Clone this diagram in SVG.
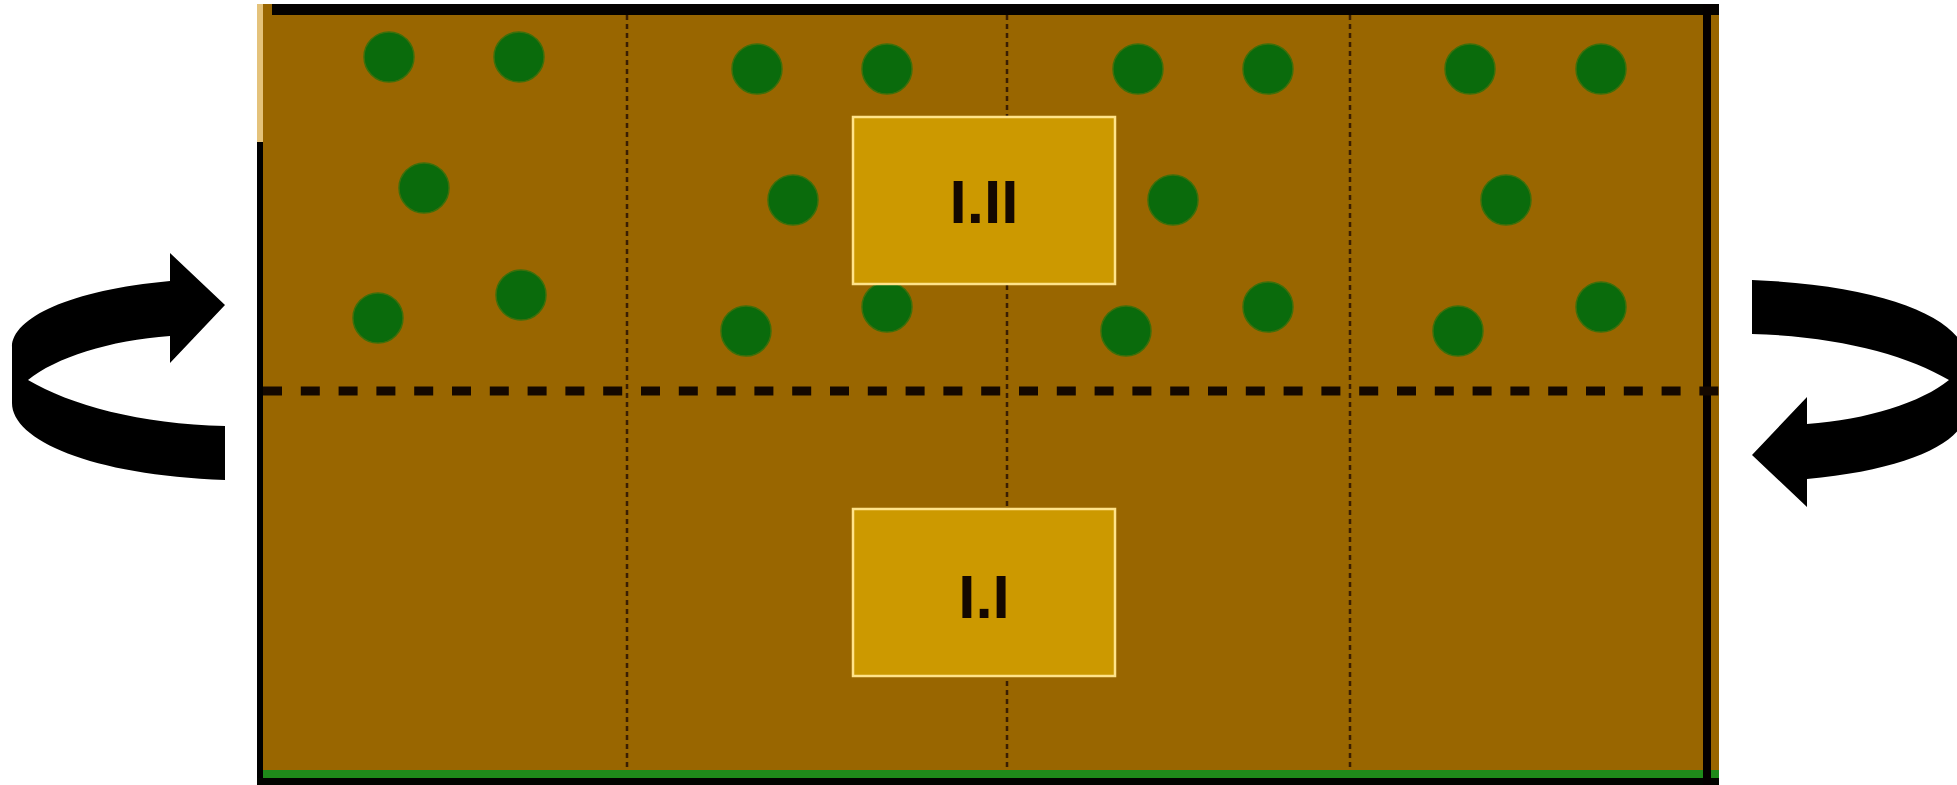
<svg xmlns="http://www.w3.org/2000/svg" width="1957" height="785" viewBox="0 0 1957 785">
  <style>
    .plant { fill: #0a6b0c; stroke: #3d6f0a; stroke-width: 1.5; }
    .plot-line { stroke: #3a1e02; stroke-width: 2.5; stroke-dasharray: 5 4; fill: none; }
    .mid-line { stroke: #140800; stroke-width: 9; stroke-dasharray: 19 18.8; fill: none; }
    .label-box { fill: #cc9900; stroke: #ffe38a; stroke-width: 2.5; }
    .label { font-family: "Liberation Sans", Arial, sans-serif; font-weight: bold; font-size: 62px; fill: #140800; text-anchor: middle; }
    .rot { fill: #000000; }
  </style>
  <defs>
    <path id="rotArrow" d="M 170,281 L 170,253 L 225,305 L 170,363 L 170,336 C 110,340 55,358 28,380 C 70,405 140,424 225,426 L 225,480 C 90,475 12,440 12,403 L 12,347 C 12,318 70,290 170,281 Z"/>
  </defs>
  <rect width="1957" height="785" fill="#ffffff"/>

  <g id="field">
    <rect x="263" y="4" width="1456" height="766" fill="#996600"/>
    <rect x="257" y="4" width="6" height="138" fill="#e4c27a"/>
    <rect x="257" y="142" width="6" height="643" fill="#000000"/>
    <rect x="272" y="4" width="1447" height="11" fill="#050200"/>
    <rect x="263" y="770" width="1456" height="8" fill="#1f8a1a"/>
    <rect x="257" y="778" width="1462" height="7" fill="#020400"/>
    <rect x="1703" y="4" width="8" height="781" fill="#050000"/>
  </g>

  <g id="plot-divisions">
    <line class="plot-line" x1="627" y1="15" x2="627" y2="770"/>
    <line class="plot-line" x1="1007" y1="15" x2="1007" y2="770"/>
    <line class="plot-line" x1="1350" y1="15" x2="1350" y2="770"/>
    <line class="mid-line" x1="263" y1="391" x2="1719" y2="391"/>
  </g>

  <g id="plot-1">
    <circle class="plant" cx="389" cy="57" r="25"/>
    <circle class="plant" cx="519" cy="57" r="25"/>
    <circle class="plant" cx="424" cy="188" r="25"/>
    <circle class="plant" cx="378" cy="318" r="25"/>
    <circle class="plant" cx="521" cy="295" r="25"/>
  </g>
  <g id="plot-2">
    <circle class="plant" cx="757" cy="69" r="25"/>
    <circle class="plant" cx="887" cy="69" r="25"/>
    <circle class="plant" cx="793" cy="200" r="25"/>
    <circle class="plant" cx="746" cy="331" r="25"/>
    <circle class="plant" cx="887" cy="307" r="25"/>
  </g>
  <g id="plot-3">
    <circle class="plant" cx="1138" cy="69" r="25"/>
    <circle class="plant" cx="1268" cy="69" r="25"/>
    <circle class="plant" cx="1173" cy="200" r="25"/>
    <circle class="plant" cx="1126" cy="331" r="25"/>
    <circle class="plant" cx="1268" cy="307" r="25"/>
  </g>
  <g id="plot-4">
    <circle class="plant" cx="1470" cy="69" r="25"/>
    <circle class="plant" cx="1601" cy="69" r="25"/>
    <circle class="plant" cx="1506" cy="200" r="25"/>
    <circle class="plant" cx="1458" cy="331" r="25"/>
    <circle class="plant" cx="1601" cy="307" r="25"/>
  </g>

  <g id="box-I-II">
    <rect class="label-box" x="853" y="117" width="262" height="167"/>
    <text class="label" x="984" y="223">I.II</text>
  </g>
  <g id="box-I-I">
    <rect class="label-box" x="853" y="509" width="262" height="167"/>
    <text class="label" x="984" y="618">I.I</text>
  </g>

  <g id="connectors">
    <use href="#rotArrow" class="rot"/>
    <use href="#rotArrow" class="rot" transform="translate(1977,760) scale(-1,-1)"/>
  </g>
</svg>
